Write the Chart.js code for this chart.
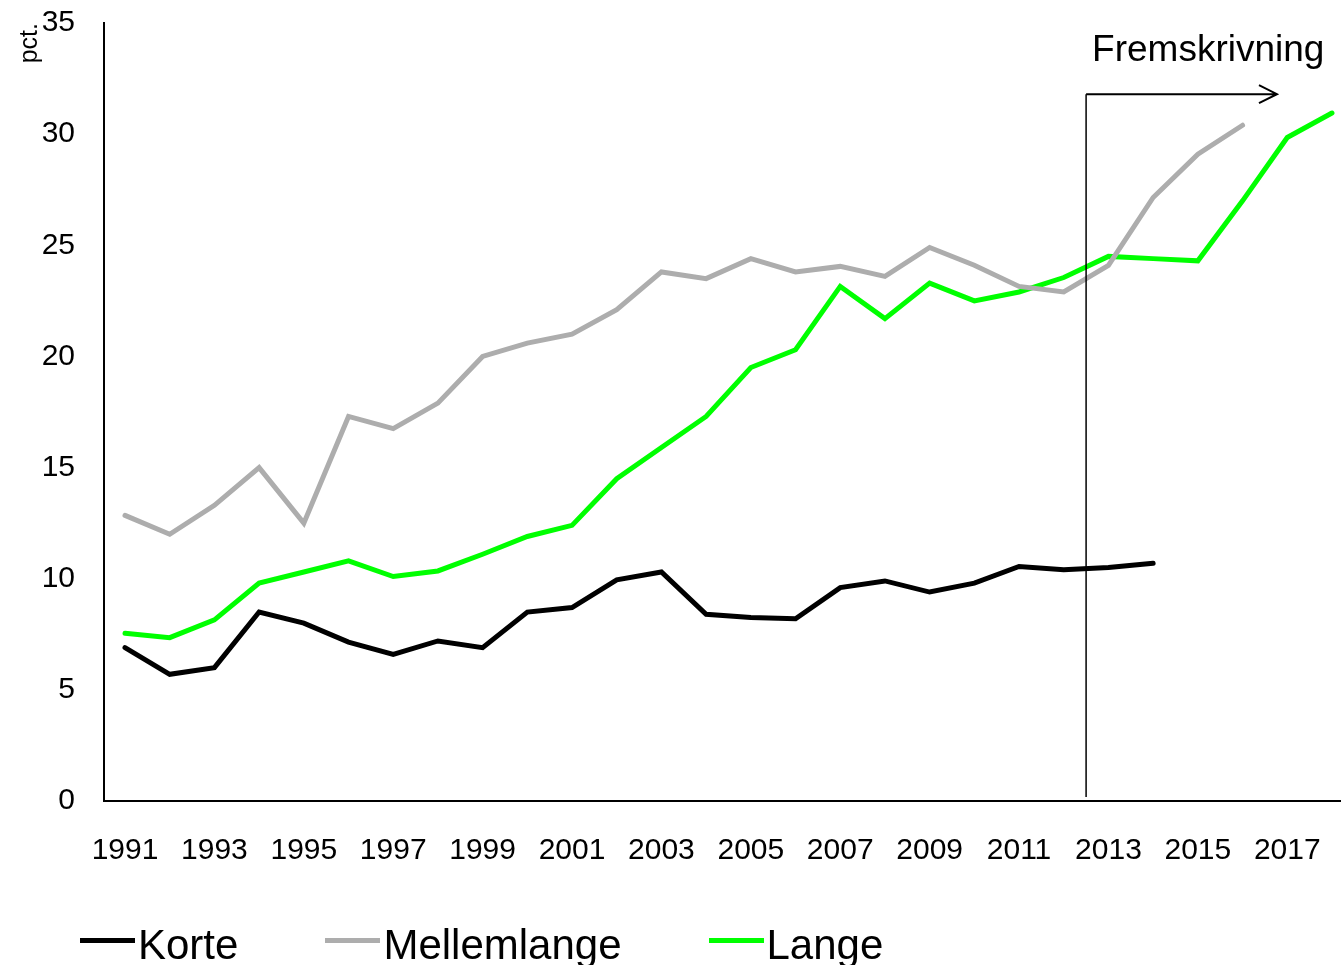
<!DOCTYPE html>
<html>
<head>
<meta charset="utf-8">
<script src="https://cdn.jsdelivr.net/npm/chart.js@4/dist/chart.umd.min.js"></script>
<style>
  html, body { margin: 0; padding: 0; background: #fff; overflow: hidden; }
  #wrap { position: relative; width: 1341px; height: 965px; overflow: hidden; }
  #legend {
    position: absolute; left: 80px; top: 924px;
    display: flex; gap: 87px;
    font-family: "Liberation Sans", Arial, sans-serif; font-size: 42px; line-height: 42px; color: #000;
  }
  #legend .item { display: flex; align-items: center; white-space: nowrap; }
  #legend .swatch { width: 55px; height: 5px; margin-right: 3px; margin-bottom: 9px; }
</style>
</head>
<body>
<div id="wrap">
  <canvas id="chart"></canvas>
  <div id="legend"></div>
</div>
<script>
// Years on the x axis, tick labels every second year.
const years = [1991, 1992, 1993, 1994, 1995, 1996, 1997, 1998, 1999, 2000,
  2001, 2002, 2003, 2004, 2005, 2006, 2007, 2008, 2009, 2010,
  2011, 2012, 2013, 2014, 2015, 2016, 2017, 2018];
const tickYears = [1991, 1993, 1995, 1997, 1999, 2001, 2003, 2005, 2007, 2009, 2011, 2013, 2015, 2017];

// pct.
const korte = [6.9, 5.7, 6.0, 8.5, 8.0, 7.15, 6.6, 7.2, 6.9, 8.5,
  8.7, 9.95, 10.3, 8.4, 8.25, 8.2, 9.6, 9.9, 9.4, 9.8,
  10.55, 10.4, 10.5, 10.7, null, null, null, null];
const mellemlange = [12.85, 12.0, 13.3, 15.0, 12.5, 17.3, 16.75, 17.9, 20.0, 20.6,
  21.0, 22.1, 23.8, 23.5, 24.4, 23.8, 24.05, 23.6, 24.9, 24.1,
  23.15, 22.9, 24.1, 27.15, 29.1, 30.4, null, null];
const lange = [7.55, 7.35, 8.15, 9.8, 10.3, 10.8, 10.1, 10.35, 11.1, 11.9,
  12.4, 14.5, 15.9, 17.3, 19.5, 20.3, 23.15, 21.7, 23.3, 22.5,
  22.9, 23.55, 24.5, 24.4, 24.3, 27.0, 29.85, 30.95];

// Projection marker: starts between 2012 and 2013.
const projectionStart = 2012.5;
const projectionArrowEnd = 2016.77;
const projectionLevel = 31.8;
const projectionLabel = "Fremskrivning";

const FONT = '"Liberation Sans", Arial, sans-serif';

const projectionPlugin = {
  id: "projection",
  afterDatasetsDraw(chart) {
    const { ctx, scales: { x, y }, chartArea } = chart;
    const x0 = x.getPixelForValue(projectionStart);
    const x1 = x.getPixelForValue(projectionArrowEnd);
    const yTop = y.getPixelForValue(projectionLevel);
    ctx.save();
    ctx.strokeStyle = "#000";
    ctx.lineWidth = 1.5;
    ctx.beginPath();
    ctx.moveTo(x0, chartArea.bottom - 4);
    ctx.lineTo(x0, yTop);
    ctx.stroke();
    ctx.lineWidth = 2;
    ctx.beginPath();
    ctx.moveTo(x0, yTop);
    ctx.lineTo(x1, yTop);
    ctx.moveTo(x1 - 18, yTop - 9);
    ctx.lineTo(x1, yTop);
    ctx.lineTo(x1 - 18, yTop + 9);
    ctx.stroke();
    ctx.fillStyle = "#000";
    ctx.font = "37px " + FONT;
    ctx.textAlign = "left";
    ctx.textBaseline = "alphabetic";
    ctx.fillText(projectionLabel, x0 + 6, yTop - 33);
    ctx.restore();
  }
};

const chart = new Chart(document.getElementById("chart"), {
  type: "line",
  data: {
    labels: years,
    datasets: [
      { label: "Korte", data: korte, borderColor: "#000000", backgroundColor: "#000000" },
      { label: "Mellemlange", data: mellemlange, borderColor: "#ADADAD", backgroundColor: "#ADADAD" },
      { label: "Lange", data: lange, borderColor: "#00FF00", backgroundColor: "#00FF00" },
    ],
  },
  options: {
    responsive: true,
    maintainAspectRatio: false,
    animation: false,
    layout: { padding: { left: 0, right: 1, top: 23, bottom: 84 } },
    elements: {
      line: { borderWidth: 5, tension: 0, borderCapStyle: "round", borderJoinStyle: "miter" },
      point: { radius: 0, hoverRadius: 0 },
    },
    plugins: {
      legend: { display: false },
      tooltip: { enabled: false },
    },
    scales: {
      x: {
        type: "linear",
        min: 1990.53,
        max: 2018.18,
        grid: { display: false, drawTicks: true, tickLength: 32 },
        border: { display: true, color: "#000", width: 2 },
        afterBuildTicks: s => { s.ticks = tickYears.map(v => ({ value: v })); },
        afterFit: s => { s.height = 80; },
        ticks: {
          autoSkip: false,
          maxRotation: 0,
          padding: 0,
          color: "#000",
          font: { family: FONT, size: 30 },
          callback: v => String(v),
        },
      },
      y: {
        min: 0,
        max: 35,
        grid: { display: false, drawTicks: true, tickLength: 29 },
        border: { display: true, color: "#000", width: 2 },
        afterFit: s => { s.width = 104; },
        ticks: {
          stepSize: 5,
          padding: 0,
          color: "#000",
          font: { family: FONT, size: 30 },
        },
        title: {
          display: true,
          text: "pct.",
          align: "end",
          color: "#000",
          padding: { top: 15, bottom: 0 },
          font: { family: FONT, size: 25 },
        },
      },
    },
  },
  plugins: [projectionPlugin],
});

// Legend built from the datasets
const legendEl = document.getElementById("legend");
chart.data.datasets.forEach(ds => {
  const item = document.createElement("div");
  item.className = "item";
  const sw = document.createElement("span");
  sw.className = "swatch";
  sw.style.background = ds.borderColor;
  const txt = document.createElement("span");
  txt.textContent = ds.label;
  item.appendChild(sw);
  item.appendChild(txt);
  legendEl.appendChild(item);
});
</script>
</body>
</html>
